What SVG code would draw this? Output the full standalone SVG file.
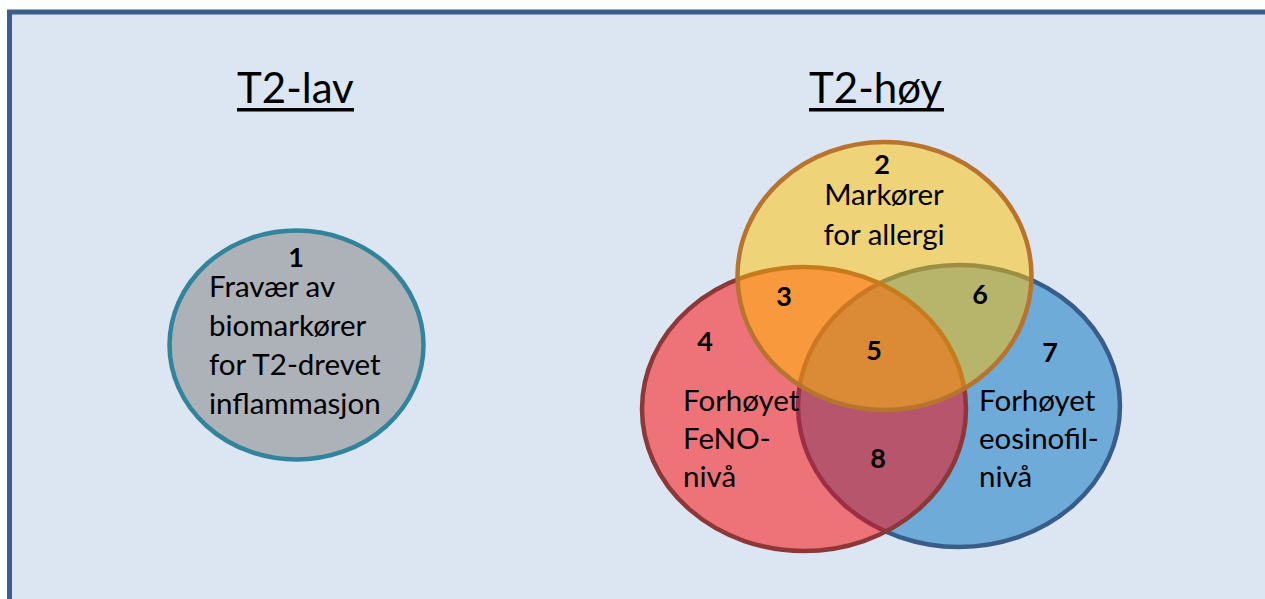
<svg xmlns="http://www.w3.org/2000/svg" width="1265" height="599" viewBox="0 0 1265 599">
<style>
.t{font-family:Lato,"Open Sans","Liberation Sans",sans-serif;fill:#000}
.title{font-size:42px}
.body{font-size:29.5px}
.num{font-size:27px;font-weight:bold;text-anchor:middle}
.c{text-anchor:middle}
</style>
<rect x="0" y="0" width="1265" height="599" fill="#ffffff"/>
<rect id="frame" x="9.5" y="12" width="1270" height="600" fill="#dce6f2" stroke="#3a5f8f" stroke-width="5"/>
<g id="title-low">
<text class="t title" x="237" y="103">T2-lav</text>
<rect x="237" y="108" width="117" height="3.5" fill="#000"/>
</g>
<g id="title-high">
<text class="t title" x="809" y="103">T2-høy</text>
<rect x="809" y="108" width="135" height="3.5" fill="#000"/>
</g>
<g id="node-1">
<ellipse cx="296.5" cy="345" rx="127" ry="114.5" fill="#adb1b8" stroke="#31849b" stroke-width="4.5"/>
<text class="t num" x="296" y="267">1</text>
<text class="t body" x="209"><tspan x="209" y="297">Fravær av</tspan><tspan x="209" y="336">biomarkører</tspan><tspan x="209" y="375">for T2-drevet</tspan><tspan x="209" y="414">inflammasjon</tspan></text>
</g>
<g id="node-blue">
<ellipse cx="959" cy="406" rx="161" ry="141" fill="#0070c0" fill-opacity="0.5" stroke="#385d8a" stroke-width="4.5"/>
</g>
<g id="node-red">
<ellipse cx="804" cy="409" rx="162" ry="142" fill="#ff0000" fill-opacity="0.5" stroke="#8c3838" stroke-width="4.5"/>
</g>
<g id="node-yellow">
<ellipse cx="884.5" cy="276" rx="147" ry="134" fill="#ffc000" fill-opacity="0.5" stroke="#b8732f" stroke-width="4.5"/>
</g>
<g id="labels">
<text class="t num" x="882" y="174">2</text>
<text class="t body c" x="884" y="205">Markører</text>
<text class="t body c" x="884" y="245">for allergi</text>
<text class="t num" x="784" y="306">3</text>
<text class="t num" x="705" y="351">4</text>
<text class="t num" x="874" y="360">5</text>
<text class="t num" x="980" y="304">6</text>
<text class="t num" x="1050" y="362">7</text>
<text class="t num" x="878" y="468">8</text>
<text class="t body" x="683"><tspan x="683" y="411">Forhøyet</tspan><tspan x="683" y="449">FeNO-</tspan><tspan x="683" y="487">nivå</tspan></text>
<text class="t body" x="979"><tspan x="979" y="411">Forhøyet</tspan><tspan x="979" y="449">eosinofil-</tspan><tspan x="979" y="487">nivå</tspan></text>
</g>
<g id="connectors"></g>
</svg>
